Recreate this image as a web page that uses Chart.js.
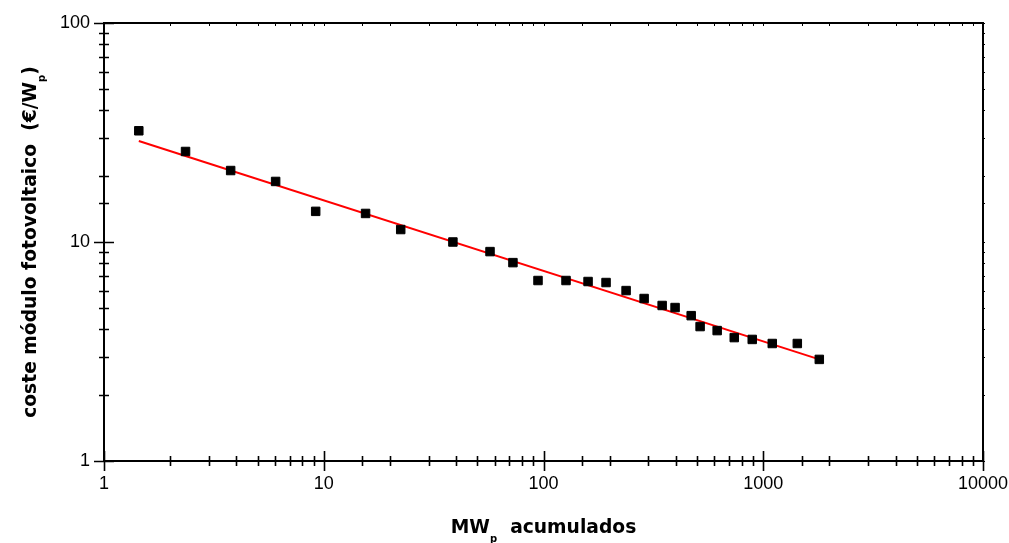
<!DOCTYPE html>
<html>
<head>
<meta charset="utf-8">
<script src="https://cdn.jsdelivr.net/npm/chart.js@4"></script>
<style>
  html, body { margin: 0; background: #fff; }
</style>
</head>
<body>
<canvas id="chart" width="1009" height="543"></canvas>
<script>
// ---- Data ----
const mwAcumulados = [1.44, 2.35, 3.77, 6.04, 9.19, 15.5, 22.4, 38.7, 57.1, 72.6, 94.4, 126.6, 159.5,
                      192.6, 237.6, 287, 346.7, 397, 470, 516, 617, 738, 891, 1099, 1429, 1799];
const costeModulo  = [32.2, 25.9, 21.2, 18.9, 13.8, 13.5, 11.4, 10.0, 9.04, 8.05, 6.67, 6.67, 6.6,
                      6.53, 6.0, 5.52, 5.13, 5.02, 4.61, 4.11, 3.94, 3.66, 3.59, 3.44, 3.44, 2.91];
// fitted line (straight in log-log), end points
const ajusteX = [1.44, 1799];
const ajusteY = [28.9, 2.91];

const xTicks = [1, 10, 100, 1000, 10000];
const yTicks = [1, 10, 100];

const TITLE_FONT = "bold 18.7px 'DejaVu Sans'";
const SUB_FONT   = "bold 10px 'DejaVu Sans'";

const isMajor = v => Math.abs(Math.log10(v) - Math.round(Math.log10(v))) < 1e-9;

// draw text made of parts (some subscripted), centred on x
function drawParts(ctx, parts, x, y) {
  let total = 0;
  parts.forEach(p => { ctx.font = p.sub ? SUB_FONT : TITLE_FONT; total += ctx.measureText(p.t).width; });
  let cx = x - total / 2;
  parts.forEach(p => {
    ctx.font = p.sub ? SUB_FONT : TITLE_FONT;
    ctx.fillText(p.t, cx, y + (p.sub ? 9 : 0));
    cx += ctx.measureText(p.t).width;
  });
}

// ---- Ticks crossing the axes, frame and axis titles ----
const framePlugin = {
  id: "frame",
  afterDraw(chart) {
    const ctx = chart.ctx, a = chart.chartArea;
    const xs = chart.scales.x, ys = chart.scales.y;
    ctx.save();
    ctx.strokeStyle = "#000";
    ctx.fillStyle = "#000";

    // top and right sides of the frame
    ctx.lineWidth = 2;
    ctx.beginPath();
    ctx.moveTo(a.left, a.top);
    ctx.lineTo(a.right, a.top);
    ctx.lineTo(a.right, a.bottom);
    ctx.stroke();

    ctx.lineWidth = 1.6;
    ctx.beginPath();
    xs.ticks.forEach(t => {
      const px = Math.round(xs.getPixelForValue(t.value)) + 0.5;
      const l = isMajor(t.value) ? 10 : 5;
      ctx.moveTo(px, a.bottom - l);
      ctx.lineTo(px, a.bottom + l);
    });
    ys.ticks.forEach(t => {
      const py = Math.round(ys.getPixelForValue(t.value)) + 0.5;
      const l = isMajor(t.value) ? 10 : 5;
      ctx.moveTo(a.left - l, py);
      ctx.lineTo(a.left + l, py);
    });
    ctx.stroke();

    ctx.lineWidth = 1;
    ctx.beginPath();
    xs.ticks.forEach(t => {
      const px = Math.round(xs.getPixelForValue(t.value)) + 0.5;
      ctx.moveTo(px, a.top);
      ctx.lineTo(px, a.top + 3);
    });
    ys.ticks.forEach(t => {
      const py = Math.round(ys.getPixelForValue(t.value)) + 0.5;
      ctx.moveTo(a.right, py);
      ctx.lineTo(a.right + 2, py);
    });
    ctx.stroke();

    // axis titles
    ctx.textAlign = "left";
    ctx.textBaseline = "alphabetic";
    drawParts(ctx, [{ t: "MW" }, { t: "p", sub: true }, { t: "  acumulados" }],
              (a.left + a.right) / 2, 533);

    ctx.translate(36, (a.top + a.bottom) / 2);
    ctx.rotate(-Math.PI / 2);
    drawParts(ctx, [{ t: "coste módulo fotovoltaico  (€/W" }, { t: "p", sub: true }, { t: ")" }], 0, 0);
    ctx.restore();
  }
};

const tickFont = { family: "'Liberation Sans', Arial, sans-serif", size: 18 };

new Chart(document.getElementById("chart"), {
  type: "scatter",
  data: {
    datasets: [
      {
        label: "datos",
        data: mwAcumulados.map((x, i) => ({ x, y: costeModulo[i] })),
        pointStyle: "rect",
        pointRadius: 6,
        pointBackgroundColor: "#000",
        pointBorderColor: "#000",
        pointBorderWidth: 1,
        order: 1
      },
      {
        label: "ajuste",
        data: ajusteX.map((x, i) => ({ x, y: ajusteY[i] })),
        showLine: true,
        borderColor: "#ff0000",
        borderWidth: 2,
        pointRadius: 0,
        order: 2
      }
    ]
  },
  options: {
    responsive: false,
    animation: false,
    devicePixelRatio: 1,
    layout: { padding: { left: 0, right: 26, top: 23, bottom: 0 } },
    plugins: { legend: { display: false }, tooltip: { enabled: false } },
    scales: {
      x: {
        type: "logarithmic",
        min: 1, max: 10000,
        grid: { display: false, drawTicks: false },
        border: { display: true, color: "#000", width: 2 },
        ticks: {
          autoSkip: false, maxRotation: 0, padding: 12,
          color: "#000", font: tickFont,
          callback: v => xTicks.includes(v) ? String(v) : ""
        },
        afterFit: s => { s.height = 82; s.paddingLeft = 0; s.paddingRight = 0; }
      },
      y: {
        type: "logarithmic",
        min: 1, max: 100,
        grid: { display: false, drawTicks: false },
        border: { display: true, color: "#000", width: 2 },
        ticks: {
          autoSkip: false, padding: 14,
          color: "#000", font: tickFont,
          callback: v => yTicks.includes(v) ? String(v) : ""
        },
        afterFit: s => { s.width = 104; s.paddingTop = 0; s.paddingBottom = 0; }
      }
    }
  },
  plugins: [framePlugin]
});
</script>
</body>
</html>
